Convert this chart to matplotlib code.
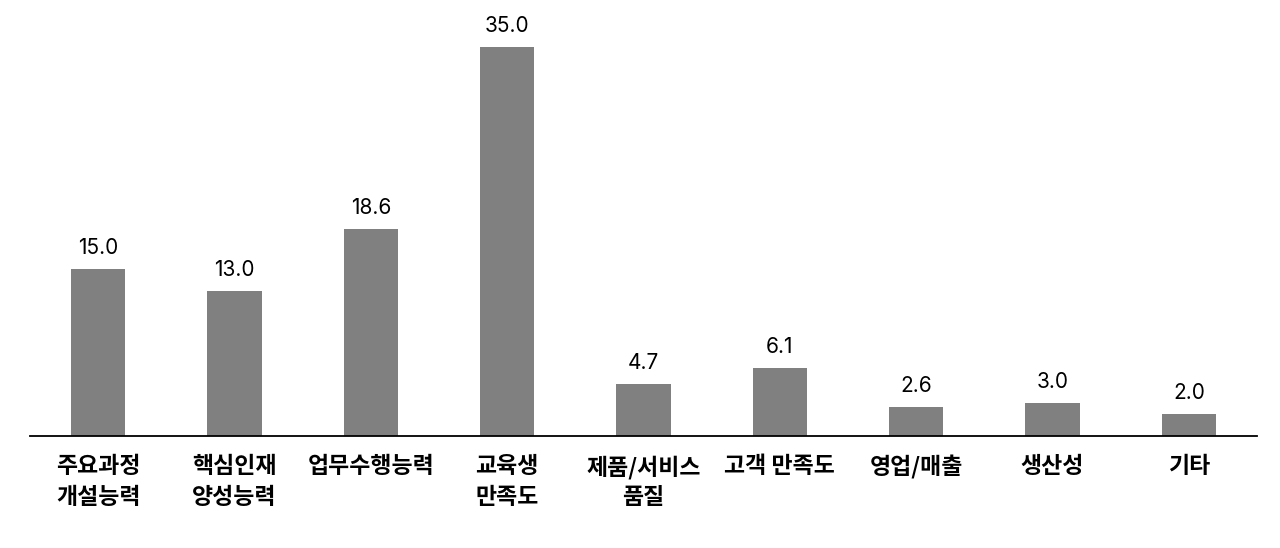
import matplotlib
matplotlib.use('Agg')
import matplotlib.pyplot as plt
import numpy as np

plt.rcParams['font.family'] = ['Noto Sans CJK KR', 'DejaVu Sans']

categories = ['주요과정\n개설능력', '핵심인재\n양성능력', '업무수행능력', '교육생\n만족도',
              '제품/서비스\n품질', '고객 만족도', '영업/매출', '생산성', '기타']
values = [15.0, 13.0, 18.6, 35.0, 4.7, 6.1, 2.6, 3.0, 2.0]

fig = plt.figure(figsize=(12.8, 5.48), dpi=100)
ax = fig.add_axes([30 / 1280, 112 / 548, 1227 / 1280, 426 / 548])

x = np.arange(len(categories))
ax.bar(x, values, width=0.4, color='#808080')

for xi, v in zip(x, values):
    ax.text(xi, v + 1.0, f'{v:.1f}', ha='center', va='bottom', fontsize=15,
            family=['Inter', 'Noto Sans CJK KR'])

ax.set_xlim(-0.5, len(categories) - 0.5)
ax.set_ylim(0, 38.3)
ax.set_xticks(x)
ax.set_xticklabels(categories, fontsize=16.5, fontweight='bold', linespacing=1.4, va='top')
ax.tick_params(axis='x', length=0, pad=14)
ax.set_yticks([])

for side in ['top', 'right', 'left']:
    ax.spines[side].set_visible(False)
ax.spines['bottom'].set_linewidth(1.3)

fig.savefig('out.png', dpi=100)
